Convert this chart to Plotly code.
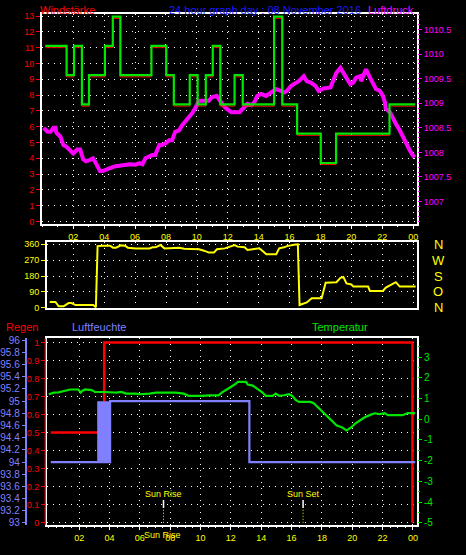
import plotly.graph_objects as go

W, H = 466, 555

# ---------------- data ----------------
hour_ticks = [2, 4, 6, 8, 10, 12, 14, 16, 18, 20, 22, 24]
hour_labels = ["02", "04", "06", "08", "10", "12", "14", "16", "18", "20", "22", "00"]

# wind speed (km/h), step series
wind_t = [0.19, 1.57, 2.05, 2.56, 3.02, 4.05, 4.56, 5.05, 7.06, 8.02, 8.51, 9.54, 10.05,
          10.58, 11.03, 11.52, 12.44, 12.97, 15.0, 15.53, 16.49, 18.02, 19.01, 22.47, 24.13]
wind_gust = [11.11, 9.26, 11.11, 7.41, 9.26, 11.11, 12.96, 9.26, 11.11, 9.26, 7.41, 9.26, 7.41,
             9.26, 11.11, 7.41, 9.26, 7.41, 12.96, 7.41, 5.56, 3.70, 5.56, 7.41, 7.41]
wind_avg = [11.0, 9.15, 11.0, 7.3, 9.15, 11.0, 12.85, 9.15, 11.0, 9.15, 7.3, 9.15, 7.3,
            9.15, 11.0, 7.3, 9.15, 7.3, 12.85, 7.3, 5.45, 3.6, 5.45, 7.3, 7.3]
wind_ticks = list(range(0, 14))

# pressure (hPa)
press_t = [0.08, 0.34, 0.53, 0.72, 0.85, 0.91, 1.17, 1.36, 1.55, 1.81,
           2.0, 2.26, 2.45, 2.64, 2.83, 3.09, 3.28, 3.47, 3.73, 3.92,
           4.11, 4.37, 4.75, 5.2, 5.65, 6.03, 6.29, 6.48, 6.67, 6.93,
           7.12, 7.31, 7.57, 7.76, 7.95, 8.21, 8.4, 8.6, 8.85, 9.04,
           9.24, 9.49, 9.68, 9.88, 10.13, 10.77, 10.96, 11.28, 11.48, 11.73,
           11.92, 12.24, 12.76, 13.08, 13.27, 13.53, 13.72, 13.91, 14.16, 14.48,
           14.68, 14.87, 15.13, 15.45, 15.64, 15.83, 16.09, 16.28, 16.6, 16.92,
           17.11, 17.37, 17.69, 17.88, 18.2, 18.65, 19.03, 19.29, 19.48, 19.67,
           19.93, 20.12, 20.31, 20.57, 20.63, 20.89, 20.95, 21.21, 21.4, 21.59,
           21.85, 22.04, 22.17, 22.23, 22.49, 22.68, 22.87, 23.13, 23.32, 23.51,
           23.77, 23.96, 24.09]
press = [1008.50, 1008.42, 1008.42, 1008.50, 1008.50, 1008.40, 1008.32, 1008.15, 1008.12, 1008.05,
         1007.98, 1008.06, 1008.06, 1007.86, 1007.82, 1007.85, 1007.88, 1007.78, 1007.62, 1007.62,
         1007.65, 1007.68, 1007.72, 1007.75, 1007.76, 1007.75, 1007.78, 1007.76, 1007.88, 1007.92,
         1007.95, 1007.95, 1008.15, 1008.15, 1008.18, 1008.25, 1008.25, 1008.42, 1008.45, 1008.55,
         1008.62, 1008.72, 1008.79, 1008.89, 1009.05, 1009.05, 1009.12, 1009.15, 1009.05, 1008.95,
         1008.89, 1008.82, 1008.82, 1008.92, 1008.99, 1008.96, 1009.02, 1009.15, 1009.19, 1009.15,
         1009.19, 1009.22, 1009.29, 1009.25, 1009.22, 1009.25, 1009.35, 1009.39, 1009.45, 1009.55,
         1009.45, 1009.42, 1009.35, 1009.25, 1009.30, 1009.32, 1009.62, 1009.72, 1009.62, 1009.49,
         1009.39, 1009.42, 1009.52, 1009.55, 1009.45, 1009.65, 1009.69, 1009.52, 1009.39, 1009.29,
         1009.25, 1009.15, 1009.02, 1008.89, 1008.82, 1008.69, 1008.59, 1008.45, 1008.32, 1008.18,
         1008.05, 1007.95, 1007.90]
press_ticks = [1007, 1007.5, 1008, 1008.5, 1009, 1009.5, 1010, 1010.5]
press_labels = ["1007", "1007.5", "1008", "1008.5", "1009", "1009.5", "1010", "1010.5"]

# wind direction (degrees)
dir_t = [0.46, 0.83, 1.04, 1.36, 1.68, 1.87, 2.13, 3.28, 3.45, 3.56,
         3.92, 4.37, 4.56, 4.75, 5.07, 5.33, 5.52, 6.03, 6.93, 7.12,
         7.31, 7.63, 7.89, 8.21, 8.53, 8.85, 9.17, 9.88, 10.13, 10.45,
         10.77, 11.09, 11.29, 11.8, 12.24, 12.44, 12.63, 13.08, 13.27, 13.72,
         14.04, 14.23, 14.49, 15.13, 15.32, 15.64, 15.83, 16.28, 16.53, 16.64,
         16.79, 17.11, 17.43, 18.07, 18.33, 19.03, 19.29, 19.48, 19.68, 20.0,
         20.13, 21.08, 21.2, 22.04, 22.23, 22.56, 22.88, 23.13, 24.16]
direction = [33, 33, 8, 8, 26, 26, 15, 15, 2, 350,
             352, 352, 341, 341, 354, 352, 341, 337, 337, 343,
             343, 356, 337, 337, 341, 341, 335, 335, 332, 324,
             313, 313, 332, 337, 350, 356, 347, 343, 328, 332,
             337, 324, 304, 304, 337, 343, 350, 358, 360, 15,
             21, 30, 54, 54, 142, 145, 170, 175, 138, 132,
             120, 120, 95, 95, 114, 132, 145, 120, 120]
dir_ticks = [0, 90, 180, 270, 360]
compass = ["N", "O", "S", "W", "N"]

# rain (mm), cumulative
rain_t = [0.13, 3.65, 23.97]
rain = [0.5, 1.0, 0.0]

# humidity (%)
hum_t = [0.13, 4.04, 13.22, 24.15]
hum = [94, 95, 94, 94]
hum_band_t = [3.19, 4.04]
hum_band_lo = [94, 94]
hum_band_hi = [95, 95]

# temperature (C)
temp_t = [0.0, 0.33, 0.65, 1.19, 1.41, 1.95, 2.1, 2.2, 2.39, 2.82,
          3.04, 3.58, 4.02, 4.45, 4.78, 5.1, 5.75, 5.97, 6.63, 7.06,
          7.93, 8.36, 8.9, 9.23, 10.1, 10.53, 11.19, 11.4, 11.73, 12.05,
          12.25, 12.46, 13.01, 13.11, 13.44, 13.66, 13.88, 14.09, 14.3, 14.74,
          14.96, 15.18, 15.5, 15.83, 16.05, 16.27, 16.48, 17.24, 17.46, 17.68,
          18.0, 18.33, 18.65, 18.98, 19.3, 19.63, 19.95, 20.17, 20.5, 20.83,
          21.15, 21.48, 21.8, 22.13, 22.35, 23.32, 23.65, 24.15]
temp = [1.21, 1.29, 1.30, 1.41, 1.44, 1.44, 1.29, 1.37, 1.44, 1.41,
        1.32, 1.32, 1.29, 1.29, 1.32, 1.24, 1.24, 1.21, 1.24, 1.29,
        1.29, 1.29, 1.24, 1.13, 1.13, 1.16, 1.16, 1.29, 1.44, 1.57,
        1.68, 1.81, 1.81, 1.68, 1.63, 1.52, 1.41, 1.29, 1.13, 1.13,
        1.24, 1.13, 1.16, 1.21, 1.13, 0.94, 0.84, 0.84, 0.78, 0.62,
        0.41, 0.17, -0.11, -0.30, -0.38, -0.54, -0.38, -0.22, -0.06, 0.10,
        0.20, 0.29, 0.25, 0.30, 0.20, 0.20, 0.30, 0.30]
temp_ticks = [-5, -4, -3, -2, -1, 0, 1, 2, 3]
temp_labels = ["-5", "-4", "-3", "-2", "-1", "0", "1", "2", "3"]

sunrise = 7.56
sunset = 16.76

# ---------------- styling ----------------
FONT = "Liberation Sans"
GREEN = "#00e600"
RED = "#ff0000"
MAG = "#ff00ff"
YEL = "#ffff00"
HUMC = "#8080ff"
DOT = "1px,5px"


def px_x(p):
    return p / W


def px_y(p):
    return 1 - p / H


top_dom_x = [px_x(38.3), px_x(417.5)]
top_dom_y = [px_y(223.3), px_y(10)]
mid_dom_x = [px_x(43.3), px_x(417.5)]
mid_dom_y = [px_y(309.3), px_y(241.7)]
bot_dom_x = [px_x(43.3), px_x(417.5)]
bot_dom_y = [px_y(529.3), px_y(340)]

fig = go.Figure()

# top panel: pressure on base axis y (right), wind on overlay y2 (left)
fig.add_trace(go.Scatter(x=press_t, y=press, mode="lines", xaxis="x", yaxis="y",
                         line=dict(color=MAG, width=4)))
fig.add_trace(go.Scatter(x=wind_t, y=wind_avg, mode="lines", xaxis="x", yaxis="y2",
                         line=dict(color=RED, width=1, shape="hv")))
fig.add_trace(go.Scatter(x=wind_t, y=wind_gust, mode="lines", xaxis="x", yaxis="y2",
                         line=dict(color=GREEN, width=2.2, shape="hv")))

# middle panel: wind direction
fig.add_trace(go.Scatter(x=dir_t, y=direction, mode="lines", xaxis="x2", yaxis="y3",
                         line=dict(color=YEL, width=2)))

# bottom panel
fig.add_trace(go.Scatter(x=rain_t, y=rain, mode="lines", xaxis="x3", yaxis="y4",
                         line=dict(color=RED, width=2.5, shape="hv")))
fig.add_trace(go.Scatter(x=hum_band_t, y=hum_band_lo, mode="lines", xaxis="x3", yaxis="y5",
                         line=dict(color=HUMC, width=0)))
fig.add_trace(go.Scatter(x=hum_band_t, y=hum_band_hi, mode="lines", xaxis="x3", yaxis="y5",
                         fill="tonexty", fillcolor=HUMC, line=dict(color=HUMC, width=0)))
fig.add_trace(go.Scatter(x=hum_t, y=hum, mode="lines", xaxis="x3", yaxis="y5",
                         line=dict(color=HUMC, width=2.2, shape="hv")))
fig.add_trace(go.Scatter(x=temp_t, y=temp, mode="lines", xaxis="x3", yaxis="y6",
                         line=dict(color=GREEN, width=2.2)))

tickfont_y = dict(family=FONT, size=9, color=YEL)

common_x = dict(showgrid=True, gridcolor="white", griddash=DOT, gridwidth=1,
                showline=True, linecolor="white", linewidth=1.5, mirror=True,
                zeroline=False, tickmode="array", tickvals=hour_ticks)

fig.update_layout(
    width=W, height=H, margin=dict(l=0, r=0, t=0, b=0), autosize=False,
    paper_bgcolor="black", plot_bgcolor="black", showlegend=False,
    font=dict(family=FONT, size=9, color="white"),
    xaxis=dict(domain=top_dom_x, range=[-0.029, 24.25], anchor="y",
               ticktext=hour_labels, tickfont=tickfont_y, ticks="outside",
               ticklen=4, tickcolor="white",
               minor=dict(tickmode="linear", tick0=0, dtick=1, ticks="outside",
                          ticklen=2, tickcolor="white", showgrid=False),
               **common_x),
    yaxis=dict(domain=top_dom_y, range=[1006.55, 1010.82], anchor="x", side="right",
               showgrid=False, zeroline=False, showline=False,
               tickmode="array", tickvals=press_ticks, ticktext=press_labels,
               ticks="outside", ticklen=4,
               tickcolor=MAG, tickfont=dict(family=FONT, size=9, color=MAG),
               minor=dict(tickmode="linear", tick0=1007, dtick=0.1, ticks="outside",
                          ticklen=2, tickcolor=MAG, showgrid=False)),
    yaxis2=dict(overlaying="y", anchor="x", side="left", range=[-0.14, 13.14],
                tickmode="array", tickvals=wind_ticks, ticks="outside", ticklen=4,
                tickcolor=RED, tickfont=dict(family=FONT, size=9, color=RED),
                showgrid=True, gridcolor="white", griddash=DOT, gridwidth=1,
                zeroline=False, showline=True, linecolor="white", linewidth=1.5,
                mirror=True),
    xaxis2=dict(domain=mid_dom_x, range=[0.272, 24.25], anchor="y3",
                showticklabels=False, ticks="", **common_x),
    yaxis3=dict(domain=mid_dom_y, range=[-3.4, 374.5], anchor="x2",
                tickmode="array", tickvals=dir_ticks, ticks="outside", ticklen=4,
                tickcolor=YEL, tickfont=tickfont_y,
                showgrid=True, gridcolor="white", griddash=DOT, gridwidth=1,
                zeroline=False, showline=True, linecolor="white", linewidth=1.5,
                mirror=True),
    xaxis3=dict(domain=bot_dom_x, range=[-0.13, 24.27], anchor="y4",
                ticktext=hour_labels, tickfont=tickfont_y, ticks="outside",
                ticklen=4, tickcolor="white",
                minor=dict(tickmode="linear", tick0=0, dtick=0.5, ticks="outside",
                           ticklen=2, tickcolor="white", showgrid=False),
                **common_x),
    yaxis4=dict(domain=bot_dom_y, range=[-0.011, 1.022], anchor="x3",
                tickmode="linear", tick0=0, dtick=0.1, ticks="outside", ticklen=4,
                tickcolor=RED, tickfont=dict(family=FONT, size=9, color=RED),
                showgrid=True, gridcolor="white", griddash=DOT, gridwidth=1,
                zeroline=False, showline=True, linecolor="white", linewidth=1.5,
                mirror=True),
    yaxis5=dict(overlaying="y4", anchor="free", position=px_x(22), side="left",
                range=[92.97, 96.03], tickmode="linear", tick0=93, dtick=0.2,
                ticks="outside", ticklen=3, tickcolor=HUMC,
                tickfont=dict(family=FONT, size=10, color=HUMC),
                showgrid=False, zeroline=False, showline=True, linecolor=HUMC,
                linewidth=2),
    yaxis6=dict(overlaying="y4", anchor="free", position=px_x(417.5), side="right",
                range=[-5.095, 3.905], tickmode="array", tickvals=temp_ticks,
                ticktext=temp_labels, ticks="outside", ticklen=4, tickcolor=GREEN,
                tickfont=dict(family=FONT, size=10, color=GREEN),
                minor=dict(tickmode="linear", tick0=0, dtick=0.5, ticks="outside",
                           ticklen=2, tickcolor=GREEN, showgrid=False),
                showgrid=False, zeroline=False, showline=False),
)

annotations = [
    dict(text="Windstärke", x=px_x(34), y=px_y(6), xanchor="left", color=RED),
    dict(text="24 hour graph day : 08 November 2016", x=px_x(264), y=px_y(6),
         xanchor="center", color="#1a1aff"),
    dict(text="Luftdruck", x=px_x(416), y=px_y(6), xanchor="right", color=MAG),
    dict(text="Regen", x=px_x(0), y=px_y(328), xanchor="left", color=RED),
    dict(text="Luftfeuchte", x=px_x(67), y=px_y(328), xanchor="left", color=HUMC),
    dict(text="Temperatur", x=px_x(340), y=px_y(328), xanchor="center", color=GREEN),
]
for a in annotations:
    fig.add_annotation(text=a["text"], x=a["x"], y=a["y"], xref="paper", yref="paper",
                       xanchor=a["xanchor"], yanchor="middle", showarrow=False,
                       font=dict(family=FONT, size=11, color=a["color"]))

# compass letters next to wind direction panel
for v, lab in zip(dir_ticks, compass):
    fig.add_annotation(text=lab, x=px_x(439), y=v, xref="paper", yref="y3",
                       xanchor="center", yanchor="middle", showarrow=False,
                       font=dict(family=FONT, size=13, color=YEL))

# sun rise / sun set markers
for t, lab in [(sunrise, "Sun Rise"), (sunset, "Sun Set")]:
    fig.add_shape(type="line", xref="x3", yref="y4", x0=t, x1=t, y0=0.082, y1=0.126,
                  line=dict(color="white", width=1.5))
    fig.add_shape(type="line", xref="x3", yref="y4", x0=t, x1=t, y0=0.0, y1=0.082,
                  line=dict(color=YEL, width=1, dash="1px,2px"))
    fig.add_annotation(text=lab, x=t, y=0.158, xref="x3", yref="y4", showarrow=False,
                       xanchor="center", yanchor="middle",
                       font=dict(family=FONT, size=9, color=YEL))
fig.add_annotation(text="Sun Rise", x=sunrise - 0.05, y=px_y(540), xref="x3", yref="paper",
                   showarrow=False, xanchor="center", yanchor="middle",
                   font=dict(family=FONT, size=9, color=YEL))

# red rain axis line
fig.add_shape(type="line", xref="paper", yref="paper", x0=px_x(41.7), x1=px_x(41.7),
              y0=bot_dom_y[0], y1=bot_dom_y[1], line=dict(color=RED, width=1.3))

fig.write_html(
    "out.html",
    config={"displayModeBar": False},
    post_script="document.body.style.margin='0';document.body.style.overflow='hidden';",
)
